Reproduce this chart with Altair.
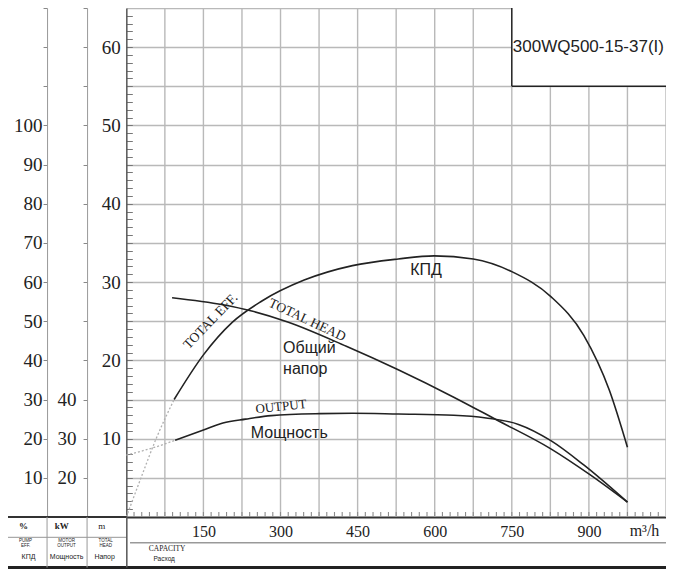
import altair as alt
import pandas as pd

# ---------------- data ----------------
# Total head (m) vs capacity (m3/h)
head_flow = [89, 188, 244, 314, 428, 529, 637, 719, 826, 902, 975]
head_m = [28.0, 27.1, 26.3, 24.9, 21.8, 18.8, 15.3, 12.45, 8.7, 5.4, 1.9]

# Efficiency (%) - light extension near zero flow, then the main curve
eff_flow_ext = [0, 30, 58, 93]
eff_pct_ext = [0, 10.5, 20, 30]
eff_flow = [93, 150, 206, 263, 346, 440, 529, 599, 675, 751, 826, 890, 940, 975]
eff_pct = [30, 41.4, 49.7, 55.1, 60.5, 64.2, 65.9, 66.7, 65.9, 62.6, 56.3, 46.4, 32.3, 17.8]

# Shaft power (kW)
pow_flow_ext = [0, 67, 95]
pow_kw_ext = [25.8, 28.3, 29.6]
pow_flow = [95, 150, 188, 232, 282, 377, 440, 529, 637, 700, 763, 826, 890, 975]
pow_kw = [29.6, 32.2, 34.0, 35.0, 35.9, 36.4, 36.5, 36.3, 36.0, 35.3, 33.65, 29.5, 23.3, 13.8]

# axis ticks / grid / labels
x_grid = [75, 150, 225, 300, 375, 450, 525, 600, 675, 750, 825, 900, 975, 1050]
x_labels = [150, 300, 450, 600, 750, 900]
x_minor = [v for v in range(15, 1050, 15)]
head_grid = [5, 10, 15, 20, 25, 30, 35, 40, 45, 50, 55, 60, 65]
head_minor = [v for v in range(1, 65)]
eff_ticks = [10, 20, 30, 40, 50, 60, 70, 80, 90, 100, 110, 120, 130]
kw_ticks = [20, 30, 40, 50, 60, 70, 80, 90, 100, 110, 120, 130, 140]

model = "300WQ500-15-37(I)"

# ---------------- layout ----------------
TOTAL_W, TOTAL_H = 658, 561
SX = TOTAL_W / 674
SY = TOTAL_H / 577
X0 = 121.2
W = (674 - X0) * SX
H = 523.5 * SY
HY = 65 / H         # head metres per pixel


def rx(X):
    return (X - X0) * SX


def ry(Y):
    return Y * SY


SERIF = "Liberation Serif"
SANS = "Liberation Sans"
INK = "#222222"
GRID = "#b9b9b9"

xs = alt.Scale(domain=[0, 1050], nice=False, zero=False)
hs = alt.Scale(domain=[0, 65], nice=False, zero=False)
es = alt.Scale(domain=[0, 130], nice=False, zero=False)
ps = alt.Scale(domain=[10, 140], nice=False, zero=False)

xaxis = alt.Axis(
    values=x_labels, grid=False, ticks=False,
    domainColor="#333333", domainWidth=2,
    labelFont=SERIF, labelFontSize=16, labelColor=INK, labelPadding=7,
    labelOverlap=False, labelFlush=False, title=None,
)
# main head axis: labels 10..60 and the horizontal grid every 5 m
head_axis = alt.Axis(
    orient="left", values=head_grid, grid=True, gridColor=GRID, gridWidth=1.4,
    ticks=False, domainColor="#555555", domainWidth=1.5,
    labelExpr="(datum.value % 10 === 0 && datum.value <= 60) ? datum.label : ''",
    labelFont=SERIF, labelFontSize=19, labelColor=INK, labelPadding=6,
    labelOverlap=False, title=None,
)
# minor 1 m ticks pointing into the plot from the head axis
minor_axis = alt.Axis(
    orient="left", offset=-6, values=head_minor, grid=False,
    ticks=True, tickSize=6, tickColor="#777777", tickWidth=1,
    domain=False, labels=False, title=None,
)
eff_axis = alt.Axis(
    orient="left", offset=rx(X0) - rx(40), values=eff_ticks, grid=False,
    ticks=True, tickSize=4, tickColor="#888888", domainColor="#999999",
    labelExpr="datum.value <= 100 ? datum.label : ''",
    labelFont=SERIF, labelFontSize=19, labelColor=INK, labelPadding=1,
    labelOverlap=False, title=None,
)
kw_axis = alt.Axis(
    orient="left", offset=rx(X0) - rx(81), values=kw_ticks, grid=False,
    ticks=True, tickSize=4, tickColor="#888888", domainColor="#999999",
    labelExpr="datum.value <= 40 ? datum.label : ''",
    labelFont=SERIF, labelFontSize=19, labelColor=INK, labelPadding=7,
    labelOverlap=False, title=None,
)

one = pd.DataFrame({"a": [0]})


def XF(field):
    return alt.X(field, type="quantitative", scale=xs, axis=xaxis)


def XD(v):
    return alt.X(datum=v, type="quantitative", scale=xs, axis=xaxis)


def YD(v, scale):
    return alt.Y(datum=v, type="quantitative", scale=scale, axis=None)


# ---------------- vertical grid and minor capacity ticks ----------------
def vline(v, color, width):
    return alt.Chart(one).mark_rule(color=color, strokeWidth=width).encode(x=XD(v))


def vseg(v, y_from, y_to, color, width=1.0):
    return alt.Chart(one).mark_rule(color=color, strokeWidth=width).encode(
        x=XD(v), y=YD(y_from, hs), y2=alt.Y2(datum=y_to)
    )


grid_layers = [vline(v, GRID, 1.4) for v in x_grid]
tick_layers = [vseg(v, 0.02, 5 * HY, "#8c8c8c", 1.1) for v in x_minor]

# layer that carries the minor head-tick axis (invisible mark)
minor_carrier = alt.Chart(one).mark_point(opacity=0).encode(
    x=XD(500), y=alt.Y(datum=30, type="quantitative", scale=hs, axis=minor_axis)
)

# ---------------- curves ----------------
head_df = pd.DataFrame({"f": head_flow, "h": head_m})
eff_ext_df = pd.DataFrame({"f": eff_flow_ext, "e": eff_pct_ext})
eff_df = pd.DataFrame({"f": eff_flow, "e": eff_pct})
pow_ext_df = pd.DataFrame({"f": pow_flow_ext, "p": pow_kw_ext})
pow_df = pd.DataFrame({"f": pow_flow, "p": pow_kw})

head_line = alt.Chart(head_df).mark_line(
    color=INK, strokeWidth=1.6, interpolate="monotone"
).encode(x=XF("f"), y=alt.Y("h:Q", scale=hs, axis=head_axis))

eff_line = alt.Chart(eff_df).mark_line(
    color=INK, strokeWidth=1.6, interpolate="monotone"
).encode(x=XF("f"), y=alt.Y("e:Q", scale=es, axis=eff_axis))

eff_ext = alt.Chart(eff_ext_df).mark_line(
    color="#b0b0b0", strokeWidth=1.3, strokeDash=[2, 2], interpolate="monotone"
).encode(x=XF("f"), y=alt.Y("e:Q", scale=es, axis=None))

pow_line = alt.Chart(pow_df).mark_line(
    color=INK, strokeWidth=1.6, interpolate="monotone"
).encode(x=XF("f"), y=alt.Y("p:Q", scale=ps, axis=kw_axis))

pow_ext = alt.Chart(pow_ext_df).mark_line(
    color="#b0b0b0", strokeWidth=1.3, strokeDash=[2, 2], interpolate="monotone"
).encode(x=XF("f"), y=alt.Y("p:Q", scale=ps, axis=None))

# ---------------- model box ----------------
box = alt.Chart(one).mark_rect(fill="white").encode(
    x=XD(750), x2=alt.X2(datum=1050), y=YD(55, hs), y2=alt.Y2(datum=65),
)
box_left = alt.Chart(one).mark_rule(color=INK, strokeWidth=1.5).encode(
    x=XD(750), y=YD(55, hs), y2=alt.Y2(datum=65),
)
box_bottom = alt.Chart(one).mark_rule(color=INK, strokeWidth=1.5).encode(
    x=XD(750), x2=alt.X2(datum=1050), y=YD(55, hs),
)
box_text = alt.Chart(one).mark_text(
    text=model, font=SANS, fontSize=17, align="left", baseline="middle",
    color=INK, dx=1,
).encode(x=XD(750), y=YD(60, hs))


# ---------------- curve annotations ----------------
def ann(text, f, h, font, size, angle=0, align="center"):
    return alt.Chart(one).mark_text(
        text=text, font=font, fontSize=size, angle=angle, align=align,
        baseline="middle", color=INK,
    ).encode(x=XD(f), y=YD(h, hs))


annotations = [
    ann("TOTAL EFF.", 164, 25.0, SERIF, 13.5, angle=314),
    ann("TOTAL HEAD", 352, 25.15, SERIF, 13.5, angle=25),
    ann("OUTPUT", 301, 14.1, SERIF, 13, angle=354),
    ann("Мощность", 317, 10.75, SANS, 16),
    ann("Общий", 305, 21.55, SANS, 16, align="left"),
    ann("напор", 305, 18.9, SANS, 16, align="left"),
    ann("КПД", 583, 31.5, SANS, 16),
]


# ---------------- bottom table ----------------
def hrule(x1, x2, y, color, width):
    return alt.Chart(one).mark_rule(color=color, strokeWidth=width).encode(
        x=alt.value(x1), x2=alt.value(x2), y=alt.value(y)
    )


def vrule(x, y1, y2, color, width):
    return alt.Chart(one).mark_rule(color=color, strokeWidth=width).encode(
        x=alt.value(x), y=alt.value(y1), y2=alt.value(y2)
    )


def label(text, x, y, font, size, weight="normal", align="center"):
    return alt.Chart(one).mark_text(
        text=text, font=font, fontSize=size, fontWeight=weight, align=align,
        baseline="middle", color=INK,
    ).encode(x=alt.value(x), y=alt.value(y))


table = [
    hrule(rx(0), 0.5, H, "#333333", 2),
    hrule(rx(0), 0.5, ry(544.5), "#aaaaaa", 1.2),
    hrule(rx(125), W, ry(550), "#999999", 1.3),
    hrule(rx(0), W, ry(575.5), "#222222", 3),
    vrule(rx(40), H, ry(575.5), "#999999", 1),
    vrule(rx(81), H, ry(575.5), "#999999", 1),
    vrule(0.5, H, ry(575.5), "#555555", 1.5),
    label("%", rx(16), ry(533), SERIF, 9, "bold"),
    label("kW", rx(55), ry(533), SERIF, 9, "bold"),
    label("m", rx(96), ry(533), SERIF, 9),
    label("PUMP", rx(18), ry(548), SANS, 4.5),
    label("EFF.", rx(18), ry(553), SANS, 4.5),
    label("MOTOR", rx(60), ry(548), SANS, 4.5),
    label("OUTPUT", rx(60), ry(553), SANS, 4.5),
    label("TOTAL", rx(100), ry(548), SANS, 4.5),
    label("HEAD", rx(100), ry(553), SANS, 4.5),
    label("КПД", rx(21), ry(565), SANS, 7),
    label("Мощность", rx(60), ry(565), SANS, 7),
    label("Напор", rx(99), ry(565), SANS, 7),
    label("CAPACITY", rx(163), ry(556), SERIF, 7.5),
    label("Расход", rx(160), ry(566.5), SANS, 6.5),
    label("m³/h", rx(652), ry(538), SERIF, 16),
]

layers = (grid_layers + [box, box_left, box_bottom, box_text] + tick_layers
          + [minor_carrier, head_line, eff_ext, eff_line, pow_ext, pow_line]
          + annotations + table)

chart = alt.layer(*layers).resolve_scale(y="independent").properties(
    width=W,
    height=H,
    padding={"left": rx(X0) - rx(0), "top": 0, "right": 0, "bottom": TOTAL_H - H},
    autosize=alt.AutoSizeParams(type="none"),
    background="white",
).configure_view(stroke=None)

chart.save("out.html", embed_options={"renderer": "svg", "actions": False})
